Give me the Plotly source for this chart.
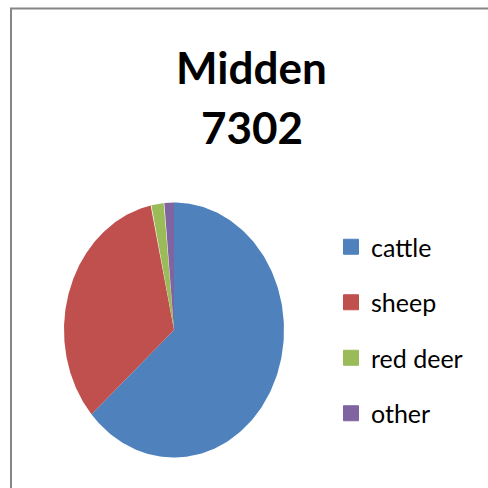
import numpy as np
import plotly.graph_objects as go

# bone counts share, Midden 7302
animals = ['cattle', 'sheep', 'red deer', 'other']
share = [63.5, 33.1, 1.9, 1.5]
colors = ['#4F81BD', '#C0504D', '#9BBB59', '#8064A2']

W = H = 488
fig = go.Figure()

# pie slices drawn clockwise from 12 o'clock on stretched axes (the original is an oval)
total = sum(share)
start = 0.0
for name, v, c in zip(animals, share, colors):
    end = start + v / total * 2 * np.pi
    t = np.linspace(start, end, 200)
    xs = np.concatenate([[0], np.sin(t), [0]])
    ys = np.concatenate([[0], np.cos(t), [0]])
    fig.add_trace(go.Scatter(
        x=xs, y=ys, mode='lines', fill='toself', fillcolor=c,
        line=dict(width=0, color=c), name=name, showlegend=False,
        hoverinfo='skip'
    ))
    start = end

# legend entries
for name, c in zip(animals, colors):
    fig.add_trace(go.Scatter(
        x=[None], y=[None], mode='markers', name=name, legendgroup=name,
        marker=dict(symbol='square', size=15, color=c, line=dict(width=1, color=c))
    ))

cx, cy, rx, ry = 174, 330, 110, 127.5
fig.update_xaxes(range=[-cx / rx, (W - cx) / rx], visible=False)
fig.update_yaxes(range=[-(H - cy) / ry, cy / ry], visible=False)

fig.add_annotation(text='<b>Midden</b>', x=251.5 / W, y=1 - 67 / H, xref='paper', yref='paper',
                   showarrow=False, yanchor='middle', font=dict(family='Lato', size=44, color='black'))
fig.add_annotation(text='<b>7302</b>', x=251.5 / W, y=1 - 127 / H, xref='paper', yref='paper',
                   showarrow=False, yanchor='middle', font=dict(family='Lato', size=44, color='black'))

# chart area border: only left and top edges are inside the picture
bx, by = 11 / W, 1 - 8.5 / H
fig.add_shape(type='path', xref='paper', yref='paper',
              path=f'M {bx},0 L {bx},{by} L 1,{by}',
              line=dict(color='#868686', width=2))

fig.update_layout(
    width=W, height=H, margin=dict(l=0, r=0, t=0, b=0),
    paper_bgcolor='white', plot_bgcolor='white', hovermode=False, dragmode=False,
    legend=dict(x=331 / W, y=1 - 224 / H, xanchor='left', yanchor='top',
                font=dict(family='Lato', size=25, color='black'),
                tracegroupgap=20, itemsizing='trace'),
)

fig.write_html('out.html', config={'staticPlot': True},
               post_script="document.body.style.margin='0px';")
